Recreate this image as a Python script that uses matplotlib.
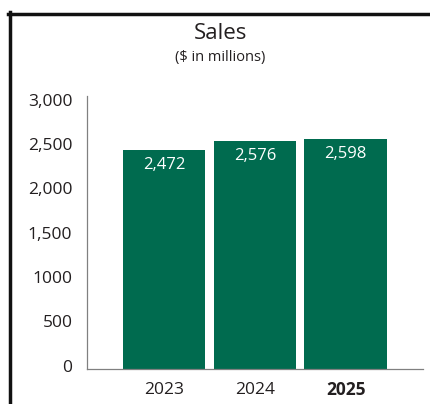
import matplotlib.pyplot as plt
import matplotlib.transforms as mtransforms
from matplotlib.lines import Line2D

plt.rcParams['font.family'] = ['Open Sans', 'DejaVu Sans']

years = ['2023', '2024', '2025']
sales = [2472, 2576, 2598]
sales_labels = ['2,472', '2,576', '2,598']
ytick_vals = [0, 500, 1000, 1500, 2000, 2500, 3000]
ytick_labels = ['0', '500', '1000', '1,500', '2,000', '2,500', '3,000']

green = '#006B4F'
axis_grey = '#808080'
text_col = '#231F20'

fig = plt.figure(figsize=(4.30, 4.04), dpi=100)
# axis runs from y=369 px (0) up to y=96 px
ax = fig.add_axes([0.2023, 0.0866, 0.7814, 0.6757])

x = range(len(years))
bars = ax.bar(x, sales, width=0.91, color=green)

for b, lab in zip(bars, sales_labels):
    ax.annotate(lab, (b.get_x() + b.get_width() / 2, b.get_height()),
                xytext=(0, -5), textcoords='offset points',
                ha='center', va='top', color='white', fontsize=12)

ax.set_xlim(-0.85, 2.85)
ax.set_ylim(0, 3080)
ax.set_yticks(ytick_vals)
ax.set_yticklabels(ytick_labels, fontsize=12.5, color=text_col)
ax.set_xticks(list(x))
ax.set_xticklabels(years, fontsize=12.5, color=text_col, va='center_baseline')
ax.get_xticklabels()[-1].set_fontweight('bold')
ax.tick_params(axis='both', length=0)
ax.tick_params(axis='y', pad=10.5)
ax.tick_params(axis='x', pad=14)

# tick labels sit a little above their gridline in the original
shift = mtransforms.ScaledTranslation(0, 2.5 / 72, fig.dpi_scale_trans)
for t in ax.get_yticklabels():
    t.set_transform(t.get_transform() + shift)

for s in ['top', 'right']:
    ax.spines[s].set_visible(False)
for s in ['left', 'bottom']:
    ax.spines[s].set_color(axis_grey)
    ax.spines[s].set_linewidth(0.9)

fig.text(0.512, 0.916, 'Sales', ha='center', va='center', fontsize=16, color=text_col)
fig.text(0.512, 0.857, '($ in millions)', ha='center', va='center', fontsize=10.5, color=text_col)

# black frame on left and top
fig.add_artist(Line2D([10 / 430, 10 / 430], [0, 1 - 12 / 404], color='#111111', lw=2.5,
                      transform=fig.transFigure))
fig.add_artist(Line2D([8 / 430, 1], [1 - 13.5 / 404, 1 - 13.5 / 404], color='#111111', lw=2.5,
                      transform=fig.transFigure))

fig.savefig('out.png', dpi=100)
